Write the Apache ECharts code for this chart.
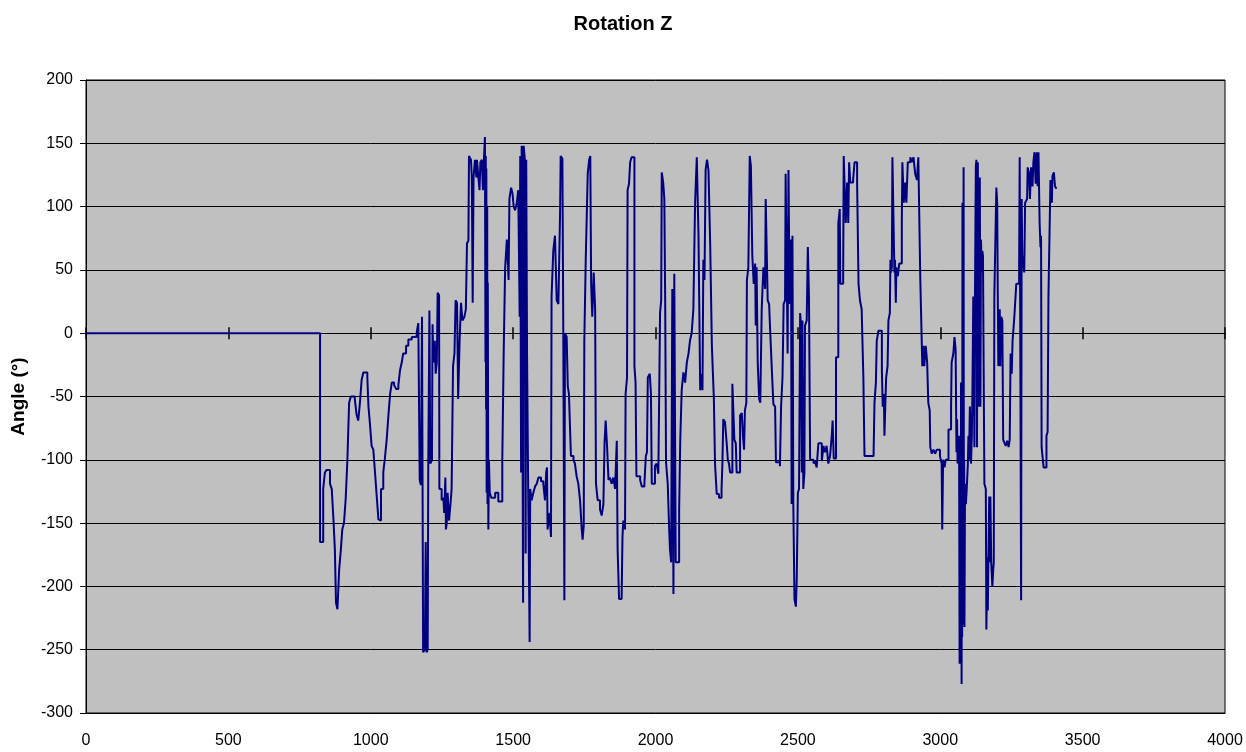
<!DOCTYPE html>
<html>
<head>
<meta charset="utf-8">
<title>Rotation Z</title>
<script src="https://cdn.jsdelivr.net/npm/echarts@6/dist/echarts.min.js"></script>
<style>
  html, body { margin: 0; padding: 0; background: #ffffff; }
  #chart { width: 1246px; height: 752px; }
</style>
</head>
<body>
<div id="chart"></div>
<script>
// Z rotation angle (degrees) per frame, as [frame, angle] change points (held until the next one).
const rotZ_0_1170 = [
  [0, 0], [822, -165], [833, -123], [839, -110], [845, -108], [857, -119], [863, -123], [869, -147],
  [874, -171], [878, -213], [883, -218], [889, -187], [895, -171], [900, -155], [906, -150], [912, -131],
  [918, -100], [924, -55], [930, -50], [944, -52], [950, -64], [956, -69], [962, -55], [968, -37],
  [974, -31], [988, -35], [992, -58], [997, -71], [1003, -89], [1009, -92], [1015, -110], [1021, -129],
  [1027, -147], [1033, -148], [1036, -123], [1044, -110], [1050, -98], [1056, -84], [1062, -65], [1068, -48],
  [1074, -39], [1082, -41], [1089, -44], [1097, -41], [1103, -29], [1109, -23], [1114, -16], [1124, -10],
  [1132, -5], [1144, -3], [1161, 0], [1167, 8]
];
const rotZ_1170_1530 = [
  [1172, -116], [1176, -120], [1180, 13], [1184, -252], [1190, -250], [1193, -165], [1196, -252], [1200, -250],
  [1202, -103], [1206, 18], [1209, -103], [1215, -100], [1217, 7], [1220, -23], [1225, -6], [1228, -32],
  [1232, -23], [1235, 32], [1240, 30], [1241, -123], [1249, -132], [1255, -130], [1258, -142], [1262, -114],
  [1264, -155], [1267, -150], [1270, -126], [1275, -148], [1280, -135], [1284, -123], [1289, -26], [1294, -16],
  [1298, 26], [1303, 24], [1307, -52], [1312, -6], [1317, 24], [1322, 10], [1329, 13], [1334, 19],
  [1338, 71], [1343, 73], [1345, 140], [1352, 137], [1355, 123], [1358, 24], [1361, 123], [1366, 137],
  [1371, 123], [1373, 137], [1378, 123], [1382, 113], [1385, 135], [1390, 137], [1394, 113], [1397, 135],
  [1401, 155], [1403, -23], [1404, 140], [1405, -60], [1406, 130], [1407, -126], [1409, 100], [1410, -135],
  [1411, 40], [1413, -155], [1415, -100], [1418, -126], [1423, -130], [1437, -126],
  [1448, -133], [1462, -100], [1467, -13], [1472, 52], [1478, 74], [1484, 42], [1487, 106], [1493, 115],
  [1498, 110], [1502, 100], [1507, 97], [1513, 103], [1518, 113], [1523, 13], [1525, 140], [1528, -110]
];
const rotZ_1530_1900 = [
  [1530, 148], [1535, -213], [1537, 148], [1542, 135], [1544, -174], [1546, 137], [1549, -19], [1553, -126],
  [1558, -244], [1560, -123], [1565, -132], [1571, -126], [1577, -121], [1583, -119], [1589, -114], [1598, -117],
  [1606, -119], [1612, -132], [1616, -110], [1619, -106], [1621, -155], [1628, -142], [1633, -161], [1635, 29],
  [1641, 65], [1647, 77], [1653, 26], [1659, 23], [1665, 97], [1667, 140], [1673, 138], [1676, 10],
  [1680, -211], [1682, 0], [1688, -3], [1692, -42], [1696, -48], [1703, -97], [1712, -100], [1717, -103],
  [1723, -113], [1729, -119], [1735, -132], [1741, -155], [1744, -163], [1748, -152], [1750, -6], [1755, 58],
  [1762, 126], [1767, 137], [1771, 140], [1774, 39], [1778, 13], [1783, 48], [1788, 19], [1791, -119],
  [1797, -132], [1805, -139], [1811, -144], [1817, -135], [1821, -87], [1825, -69], [1830, -90], [1835, -116],
  [1840, -114], [1846, -119], [1852, -114], [1858, -123], [1864, -85], [1867, -171], [1872, -210], [1881, -210],
  [1884, -161], [1887, -148], [1893, -155], [1895, -48]
];
const rotZ_1900_2260 = [
  [1900, -35], [1902, 113], [1907, 118], [1911, 135], [1916, 139], [1926, -26], [1930, -39], [1933, -113],
  [1946, -116], [1952, -121], [1961, -119], [1966, -97], [1970, -94], [1973, -35], [1980, -32], [1984, -48],
  [1987, -119], [1998, -105], [2004, -103], [2010, -111], [2016, 16], [2020, 26], [2022, 127], [2027, 119],
  [2031, 106], [2034, 26], [2037, -102], [2043, -119], [2048, -155], [2051, -171], [2055, -181], [2059, 35],
  [2063, -206], [2066, 47], [2071, -181], [2083, -139], [2087, -84], [2092, -45], [2098, -31], [2104, -39],
  [2110, -23], [2116, -16], [2121, -6], [2127, 0], [2133, 19], [2139, 103], [2145, 139], [2151, 77],
  [2157, -45], [2160, -32], [2165, -45], [2168, 58], [2172, 42], [2176, 129], [2181, 137], [2186, 129],
  [2192, 71], [2198, -10], [2205, -52], [2209, -103], [2215, -127], [2223, -130], [2232, -123], [2235, -103],
  [2238, -68], [2244, -70], [2250, -87], [2254, -100], [2258, -103]
];
const rotZ_2260_2630 = [
  [2262, -110], [2270, -40], [2277, -84], [2282, -87], [2285, -110], [2297, -65], [2303, -63], [2307, -81],
  [2311, -92], [2314, -61], [2319, -55], [2321, 42], [2326, 52], [2331, 140], [2335, 132], [2340, 61],
  [2345, 39], [2350, 55], [2352, 6], [2355, 52], [2359, -23], [2364, -52], [2368, -55], [2373, 19],
  [2379, 52], [2385, 35], [2387, 106], [2394, 26], [2399, 23], [2402, 6], [2408, -26], [2414, -56],
  [2420, -58], [2423, -102], [2437, -105], [2441, -58], [2446, -35], [2450, 23], [2455, 26], [2457, 126],
  [2464, -16], [2467, 129], [2471, 23], [2476, 74], [2478, -135], [2481, 77], [2484, -135], [2488, -210],
  [2493, -216], [2496, -194], [2500, -126], [2504, -123], [2508, 16], [2511, 6], [2514, -110], [2516, 10],
  [2519, -123], [2523, -110], [2525, 6], [2531, 10], [2535, 68], [2539, 29], [2543, -100], [2555, -103],
  [2560, -101], [2566, -106], [2572, -87], [2584, -101], [2590, -89], [2595, -94], [2601, -89], [2607, -103],
  [2613, -97], [2619, -81], [2622, -69], [2626, -99]
];
const rotZ_2630_3000 = [
  [2634, -19], [2642, 87], [2647, 98], [2649, 39], [2659, 42], [2661, 140], [2668, 87], [2673, 119],
  [2677, 87], [2680, 135], [2684, 119], [2694, 121], [2699, 135], [2708, 119], [2713, 39], [2718, 26],
  [2724, 19], [2730, -35], [2734, -97], [2766, -94], [2769, -55], [2774, -39], [2777, -6], [2783, 2],
  [2795, -29], [2798, -58], [2802, -48], [2804, -81], [2806, -65], [2810, -35], [2815, -26], [2818, 10],
  [2823, 16], [2825, 58], [2827, 48], [2830, 52], [2832, 139], [2839, 48], [2841, 58], [2844, 24],
  [2846, 52], [2851, 45], [2856, 55], [2865, 87], [2867, 135], [2872, 103], [2877, 119], [2881, 103],
  [2886, 135], [2895, 139], [2900, 135], [2906, 139], [2912, 126], [2918, 121], [2923, 139], [2930, 42],
  [2937, -26], [2941, -10], [2944, -26], [2949, -10], [2954, -23], [2958, -55], [2963, -61], [2965, -90],
  [2970, -95], [2976, -92], [2982, -95], [2988, -92], [2999, -97]
];
const rotZ_3000_3200 = [
  [3005, -103], [3007, -155], [3010, -100], [3015, -106], [3019, -100], [3029, -76], [3038, -58], [3040, -23],
  [3046, -16], [3050, -3], [3054, -13], [3057, -94], [3059, -68], [3061, -103], [3064, -94], [3066, -81],
  [3068, -261], [3069, -90], [3070, -250], [3071, -84], [3072, -200], [3073, -39], [3075, -277], [3076, -100],
  [3077, -240], [3078, 103], [3079, -150], [3080, -42], [3081, -230], [3082, 131], [3083, -180], [3084, -100],
  [3085, -232], [3087, -119], [3090, -135], [3093, -123], [3097, -103], [3099, -81], [3101, -100], [3104, -58],
  [3106, -74], [3108, -103], [3111, -81], [3113, -45], [3116, 29], [3120, -90], [3122, 32], [3125, 132],
  [3127, 137], [3129, -90], [3132, 135], [3136, -58], [3139, 123], [3141, -58], [3143, 74], [3146, 48],
  [3148, 65], [3150, 61], [3155, -119], [3160, -123], [3162, -234], [3165, -177], [3167, -219], [3169, -181],
  [3172, -129], [3174, -181], [3176, -129], [3179, -181], [3183, -200], [3186, -187], [3188, -181], [3190, 29],
  [3197, 115]
];
const rotZ_3200_3410 = [
  [3200, 103], [3202, 32], [3204, -26], [3209, 19], [3211, -26], [3214, 13], [3218, 10], [3221, -84],
  [3226, -87], [3230, -89], [3235, -85], [3240, -90], [3244, -84], [3247, -16], [3251, -32], [3254, -6],
  [3258, 6], [3261, 16], [3267, 39], [3277, 52], [3279, 139], [3284, -211], [3286, 106], [3288, 61],
  [3295, 48], [3298, 103], [3305, 106], [3307, 131], [3312, 126], [3315, 106], [3319, 131], [3324, 116],
  [3327, 135], [3331, 143], [3335, 118], [3339, 143], [3342, 116], [3345, 143], [3349, 87], [3352, 68],
  [3354, 77], [3356, -90], [3363, -106], [3373, -81], [3377, -78], [3380, 29], [3387, 121], [3392, 103],
  [3394, 124], [3399, 127], [3403, 116], [3408, 114]
];

// Axis ranges (ticks every 500 frames / 50 degrees)
const frameAxis = { min: 0, max: 4000, step: 500 };
const angleAxis = { min: -300, max: 200, step: 50 };

const rotationZ = [].concat(
  rotZ_0_1170, rotZ_1170_1530, rotZ_1530_1900, rotZ_1900_2260,
  rotZ_2260_2630, rotZ_2630_3000, rotZ_3000_3200, rotZ_3200_3410
);

// Sample-and-hold: each angle is kept until the next change point.
const heldPath = [];
rotationZ.forEach(function (p, i) {
  if (i > 0) heldPath.push([p[0], rotationZ[i - 1][1]]);
  heldPath.push([p[0], p[1]]);
});

const FONT = '"Liberation Sans", Arial, sans-serif';
const plainNumber = function (v) { return String(v); };
const chart = echarts.init(document.getElementById('chart'), null, { renderer: 'canvas' });

const zeroAxisBase = {
  type: 'value',
  min: frameAxis.min, max: frameAxis.max, interval: frameAxis.step,
  axisLine: { show: true, onZero: true, onZeroAxisIndex: 0, lineStyle: { color: '#000', width: 1 } },
  axisTick: { show: true, length: 6, lineStyle: { color: '#000', width: 1.5 } },
  axisLabel: { show: false },
  splitLine: { show: false }
};

chart.setOption({
  animation: false,
  backgroundColor: '#ffffff',
  title: {
    text: 'Rotation Z',
    left: 'center',
    top: 9,
    textStyle: { fontFamily: FONT, fontSize: 20, fontWeight: 'bold', color: '#000' }
  },
  grid: {
    left: 86, right: 21, top: 80, bottom: 39,
    containLabel: false,
    outerBoundsMode: 'none',
    show: true,
    backgroundColor: '#c0c0c0',
    borderColor: '#000',
    borderWidth: 1
  },
  xAxis: [
    {
      type: 'value',
      position: 'bottom',
      min: frameAxis.min, max: frameAxis.max, interval: frameAxis.step,
      axisLine: { show: true, onZero: false, lineStyle: { color: '#000', width: 1 } },
      axisTick: { show: false },
      splitLine: { show: false },
      axisLabel: { margin: 20, fontFamily: FONT, fontSize: 16, color: '#000', formatter: plainNumber }
    },
    Object.assign({ position: 'bottom' }, zeroAxisBase),
    Object.assign({ position: 'top' }, zeroAxisBase)
  ],
  yAxis: {
    type: 'value',
    min: angleAxis.min, max: angleAxis.max, interval: angleAxis.step,
    name: 'Angle (°)',
    nameLocation: 'middle',
    nameRotate: 90,
    nameGap: 58,
    nameTextStyle: { fontFamily: FONT, fontSize: 19, fontWeight: 'bold', color: '#000' },
    axisLine: { show: true, lineStyle: { color: '#000', width: 1 } },
    axisTick: { show: true, length: 6, lineStyle: { color: '#000' } },
    axisLabel: { margin: 13, fontFamily: FONT, fontSize: 16, color: '#000', formatter: plainNumber },
    splitLine: { show: true, lineStyle: { color: '#000', width: 1 } }
  },
  series: [{
    type: 'line',
    name: 'Rotation Z',
    xAxisIndex: 0,
    data: heldPath,
    showSymbol: false,
    lineStyle: { color: '#000080', width: 2 },
    z: 3
  }]
});
</script>
</body>
</html>
